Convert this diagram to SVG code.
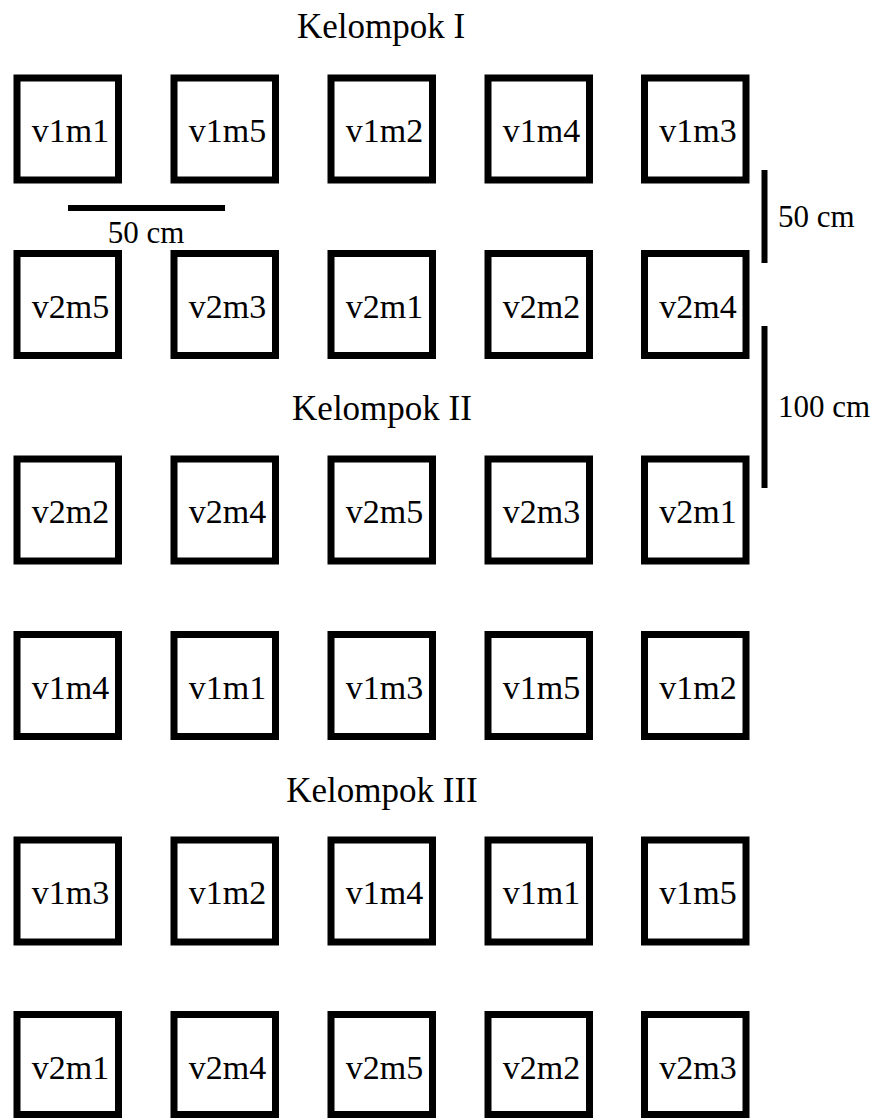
<svg xmlns="http://www.w3.org/2000/svg" width="875" height="1118" viewBox="0 0 875 1118">
<style>
.b{fill:#fff;stroke:#000;stroke-width:7}
.bar{stroke:#000;stroke-width:6}
</style>
<rect width="875" height="1118" fill="#fff"/>
<g id="titles" font-family="'Liberation Serif', 'Times New Roman', serif" font-size="35" text-anchor="middle" fill="#000">
<text x="381" y="38">Kelompok I</text>
<text x="382" y="420">Kelompok II</text>
<text x="382" y="802">Kelompok III</text>
</g>
<g id="plots" font-family="'Liberation Serif', 'Times New Roman', serif" font-size="34" text-anchor="middle" fill="#000">
<g id="r1">
<g id="n1_1"><rect class="b" x="17" y="78" width="101.5" height="102"/><text x="70.5" y="142">v1m1</text></g>
<g id="n1_2"><rect class="b" x="174" y="78" width="101.5" height="102"/><text x="227.5" y="142">v1m5</text></g>
<g id="n1_3"><rect class="b" x="331" y="78" width="101.5" height="102"/><text x="384.5" y="142">v1m2</text></g>
<g id="n1_4"><rect class="b" x="488" y="78" width="101.5" height="102"/><text x="541.5" y="142">v1m4</text></g>
<g id="n1_5"><rect class="b" x="644.5" y="78" width="101.5" height="102"/><text x="698" y="142">v1m3</text></g>
</g>
<g id="r2">
<g id="n2_1"><rect class="b" x="17" y="253.5" width="101.5" height="102"/><text x="70.5" y="317.5">v2m5</text></g>
<g id="n2_2"><rect class="b" x="174" y="253.5" width="101.5" height="102"/><text x="227.5" y="317.5">v2m3</text></g>
<g id="n2_3"><rect class="b" x="331" y="253.5" width="101.5" height="102"/><text x="384.5" y="317.5">v2m1</text></g>
<g id="n2_4"><rect class="b" x="488" y="253.5" width="101.5" height="102"/><text x="541.5" y="317.5">v2m2</text></g>
<g id="n2_5"><rect class="b" x="644.5" y="253.5" width="101.5" height="102"/><text x="698" y="317.5">v2m4</text></g>
</g>
<g id="r3">
<g id="n3_1"><rect class="b" x="17" y="459" width="101.5" height="102"/><text x="70.5" y="523">v2m2</text></g>
<g id="n3_2"><rect class="b" x="174" y="459" width="101.5" height="102"/><text x="227.5" y="523">v2m4</text></g>
<g id="n3_3"><rect class="b" x="331" y="459" width="101.5" height="102"/><text x="384.5" y="523">v2m5</text></g>
<g id="n3_4"><rect class="b" x="488" y="459" width="101.5" height="102"/><text x="541.5" y="523">v2m3</text></g>
<g id="n3_5"><rect class="b" x="644.5" y="459" width="101.5" height="102"/><text x="698" y="523">v2m1</text></g>
</g>
<g id="r4">
<g id="n4_1"><rect class="b" x="17" y="634.5" width="101.5" height="102"/><text x="70.5" y="698.5">v1m4</text></g>
<g id="n4_2"><rect class="b" x="174" y="634.5" width="101.5" height="102"/><text x="227.5" y="698.5">v1m1</text></g>
<g id="n4_3"><rect class="b" x="331" y="634.5" width="101.5" height="102"/><text x="384.5" y="698.5">v1m3</text></g>
<g id="n4_4"><rect class="b" x="488" y="634.5" width="101.5" height="102"/><text x="541.5" y="698.5">v1m5</text></g>
<g id="n4_5"><rect class="b" x="644.5" y="634.5" width="101.5" height="102"/><text x="698" y="698.5">v1m2</text></g>
</g>
<g id="r5">
<g id="n5_1"><rect class="b" x="17" y="840" width="101.5" height="102"/><text x="70.5" y="904">v1m3</text></g>
<g id="n5_2"><rect class="b" x="174" y="840" width="101.5" height="102"/><text x="227.5" y="904">v1m2</text></g>
<g id="n5_3"><rect class="b" x="331" y="840" width="101.5" height="102"/><text x="384.5" y="904">v1m4</text></g>
<g id="n5_4"><rect class="b" x="488" y="840" width="101.5" height="102"/><text x="541.5" y="904">v1m1</text></g>
<g id="n5_5"><rect class="b" x="644.5" y="840" width="101.5" height="102"/><text x="698" y="904">v1m5</text></g>
</g>
<g id="r6">
<g id="n6_1"><rect class="b" x="17" y="1014.5" width="101.5" height="100"/><text x="70.5" y="1078.5">v2m1</text></g>
<g id="n6_2"><rect class="b" x="174" y="1014.5" width="101.5" height="100"/><text x="227.5" y="1078.5">v2m4</text></g>
<g id="n6_3"><rect class="b" x="331" y="1014.5" width="101.5" height="100"/><text x="384.5" y="1078.5">v2m5</text></g>
<g id="n6_4"><rect class="b" x="488" y="1014.5" width="101.5" height="100"/><text x="541.5" y="1078.5">v2m2</text></g>
<g id="n6_5"><rect class="b" x="644.5" y="1014.5" width="101.5" height="100"/><text x="698" y="1078.5">v2m3</text></g>
</g>
</g>
<g id="scales" font-family="'Liberation Serif', 'Times New Roman', serif" font-size="31" fill="#000">
<line class="bar" x1="68" y1="208" x2="225" y2="208"/>
<text x="146" y="243" text-anchor="middle">50 cm</text>
<line class="bar" x1="764.5" y1="170" x2="764.5" y2="263"/>
<text x="778" y="227">50 cm</text>
<line class="bar" x1="764.5" y1="326" x2="764.5" y2="488"/>
<text x="778" y="417">100 cm</text>
</g>
</svg>
